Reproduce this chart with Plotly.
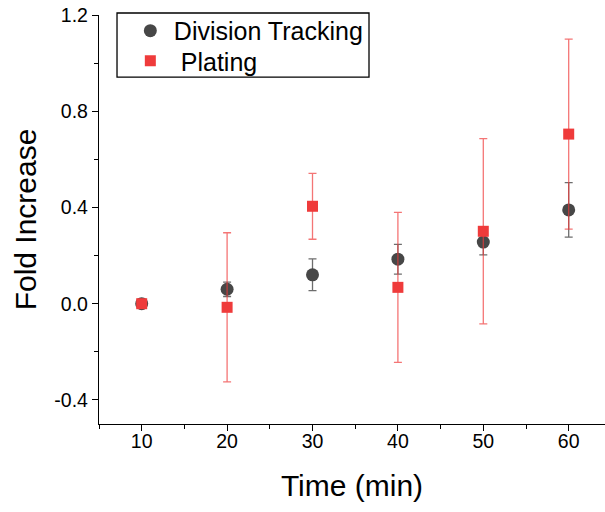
import plotly.graph_objects as go

# Sampling times (min)
time_min = [10, 20, 30, 40, 50, 60]

# Division tracking: mean fold increase and error
division_mean = [0.0, 0.06, 0.12, 0.185, 0.256, 0.39]
division_err = [0.0, 0.03, 0.066, 0.062, 0.053, 0.113]

# Plating: mean fold increase and error
plating_mean = [0.0, -0.015, 0.405, 0.068, 0.301, 0.705]
plating_err = [0.0, 0.31, 0.137, 0.312, 0.385, 0.395]

x_tick_vals = [10, 20, 30, 40, 50, 60]
x_tick_labels = ["10", "20", "30", "40", "50", "60"]
y_tick_vals = [-0.4, 0.0, 0.4, 0.8, 1.2]
y_tick_labels = ["-0.4", "0.0", "0.4", "0.8", "1.2"]

FONT = "Liberation Sans, Arial, sans-serif"
GRAY = "#474747"
RED = "#ef3b3b"

fig = go.Figure()

fig.add_trace(go.Scatter(
    x=time_min, y=division_mean, mode="markers", name="Division Tracking",
    legend="legend",
    marker=dict(symbol="circle", size=13, color=GRAY),
    error_y=dict(type="data", array=division_err, visible=True,
                 color="rgba(60,60,60,0.75)", thickness=1.3, width=4),
))

fig.add_trace(go.Scatter(
    x=time_min, y=plating_mean, mode="markers", name=" Plating",
    legend="legend2",
    marker=dict(symbol="square", size=11, color=RED),
    error_y=dict(type="data", array=plating_err, visible=True,
                 color="rgba(239,59,59,0.7)", thickness=1.3, width=4),
))

axis_common = dict(
    showline=True, linecolor="black", linewidth=1.3, mirror=False,
    ticks="outside", ticklen=6, tickwidth=1.2, tickcolor="black",
    showgrid=False, zeroline=False,
    tickfont=dict(family=FONT, size=19.5, color="black"),
)

fig.update_xaxes(
    range=[5, 64.25], tickvals=x_tick_vals, ticktext=x_tick_labels,
    ticklabelstandoff=-7,
    minor=dict(ticks="outside", ticklen=4, tickwidth=1.2, tickcolor="black", dtick=5, tick0=5),
    title=dict(text="Time (min)", font=dict(family=FONT, size=30, color="black"), standoff=24),
    **axis_common,
)
fig.update_yaxes(
    range=[-0.5, 1.2], tickvals=y_tick_vals, ticktext=y_tick_labels,
    minor=dict(ticks="outside", ticklen=4, tickwidth=1.2, tickcolor="black", dtick=0.2, tick0=0),
    title=dict(text="Fold Increase", font=dict(family=FONT, size=30, color="black"), standoff=8),
    **axis_common,
)

# Legend frame
fig.add_shape(type="rect", xref="paper", yref="paper",
              x0=0.0356, x1=0.5336, y0=0.848, y1=1.0049,
              line=dict(color="black", width=1.3), fillcolor="rgba(0,0,0,0)")

legend_common = dict(
    xanchor="left", yanchor="middle", bgcolor="rgba(0,0,0,0)", borderwidth=0,
    font=dict(family=FONT, size=25, color="black"), itemwidth=37,
)

fig.update_layout(
    width=605, height=512,
    margin=dict(l=99, r=0, t=15, b=88),
    paper_bgcolor="white", plot_bgcolor="white",
    showlegend=True,
    legend=dict(x=0.055, y=0.961, **legend_common),
    legend2=dict(x=0.055, y=0.8875, **legend_common),
)

fig.write_html("out.html")
